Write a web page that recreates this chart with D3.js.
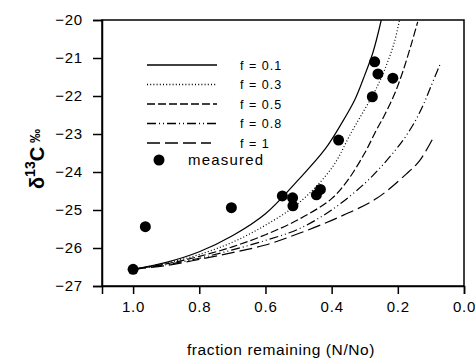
<!DOCTYPE html>
<html>
<head>
<meta charset="utf-8">
<script src="https://cdn.jsdelivr.net/npm/d3@7"></script>
<style>
  body { margin: 0; background: #fff; }
  svg text { font-family: Arial, "Liberation Sans", sans-serif; fill: #000; }
</style>
</head>
<body>
<svg id="chart" width="475" height="360"></svg>
<script>
// model curves: [N/No, d13C]
const f01 = [[1,-26.56],[0.9,-26.38],[0.8,-26.1],[0.7,-25.68],[0.6,-25.1],[0.5,-24.2],[0.42,-23.4],[0.37,-22.72],[0.33,-22.1],[0.3,-21.45],[0.275,-20.85],[0.25,-20.0]];
const f03 = [[1,-26.56],[0.9,-26.4],[0.8,-26.17],[0.7,-25.85],[0.6,-25.4],[0.5,-24.82],[0.4,-23.9],[0.34,-22.95],[0.3,-22.35],[0.265,-21.8],[0.235,-21.2],[0.21,-20.57],[0.195,-20.0]];
const f05 = [[1,-26.56],[0.9,-26.42],[0.8,-26.22],[0.7,-25.97],[0.6,-25.65],[0.5,-25.25],[0.4,-24.7],[0.35,-24.2],[0.3,-23.5],[0.265,-22.9],[0.24,-22.5],[0.21,-21.95],[0.185,-21.36],[0.16,-20.66],[0.14,-20.05]];
const f08 = [[1,-26.56],[0.9,-26.44],[0.8,-26.27],[0.7,-26.05],[0.6,-25.8],[0.5,-25.5],[0.4,-25.0],[0.3,-24.3],[0.234,-23.7],[0.184,-23.16],[0.15,-22.7],[0.124,-22.25],[0.1,-21.75],[0.073,-21.18]];
const f10 = [[1,-26.56],[0.9,-26.46],[0.8,-26.3],[0.7,-26.12],[0.6,-25.92],[0.5,-25.62],[0.386,-25.22],[0.265,-24.7],[0.174,-24.05],[0.134,-23.7],[0.091,-23.07]];

const measured = [[1.0,-26.56],[0.963,-25.44],[0.703,-24.94],[0.549,-24.63],[0.518,-24.68],[0.517,-24.89],[0.446,-24.6],[0.434,-24.46],[0.379,-23.16],[0.277,-22.02],[0.270,-21.10],[0.260,-21.42],[0.215,-21.53]];

const seriesLabels = ["f = 0.1", "f = 0.3", "f = 0.5", "f = 0.8", "f = 1"];
const xTicks = [1.0, 0.8, 0.6, 0.4, 0.2, 0.0];
const yTicks = [-20, -21, -22, -23, -24, -25, -26, -27];

const curves = [f01, f03, f05, f08, f10];
const dashes = [null, "1,2.2", "8,3", "9,3,1,3,1,3", "13,5"];

const svg = d3.select("#chart");
const x = d3.scaleLinear().domain([1.094, 0]).range([102, 464]);
const y = d3.scaleLinear().domain([-27, -20]).range([286, 20]);

// frame
svg.append("rect")
  .attr("x", x.range()[0]).attr("y", y.range()[1])
  .attr("width", x.range()[1] - x.range()[0])
  .attr("height", y.range()[0] - y.range()[1])
  .attr("fill", "none").attr("stroke", "#000").attr("stroke-width", 1.5);

// axes
const xAxis = svg.append("g")
  .attr("transform", "translate(0,286)")
  .call(d3.axisBottom(x).tickValues(xTicks).tickFormat(d3.format(".1f")).tickSize(8).tickPadding(7));
const yAxis = svg.append("g")
  .attr("transform", "translate(102,0)")
  .call(d3.axisLeft(y).tickValues(yTicks).tickFormat(d3.format("d")).tickSize(9).tickPadding(10));

[xAxis, yAxis].forEach(g => {
  g.select(".domain").attr("stroke-width", 1.5);
  g.selectAll(".tick line").attr("stroke-width", 1.5);
  g.selectAll(".tick text").style("font-size", "15px").style("letter-spacing", "0.8px").attr("font-family", null);
});

// curves
const line = d3.line()
  .x(d => x(d[0]))
  .y(d => y(d[1]))
  .curve(d3.curveCatmullRom.alpha(0.5));

svg.selectAll(".curve")
  .data(curves)
  .enter()
  .append("path")
  .attr("class", "curve")
  .attr("d", line)
  .attr("fill", "none")
  .attr("stroke", "#000")
  .attr("stroke-width", 1.2)
  .attr("stroke-dasharray", (d, i) => dashes[i]);

// measured points
svg.selectAll(".pt")
  .data(measured)
  .enter()
  .append("circle")
  .attr("cx", d => x(d[0]))
  .attr("cy", d => y(d[1]))
  .attr("r", 5.5)
  .attr("fill", "#000");

// legend
const legend = svg.append("g");
seriesLabels.forEach((lab, i) => {
  const ly = 65 + i * 19.5;
  legend.append("line")
    .attr("x1", 147).attr("x2", i === 4 ? 211 : 217)
    .attr("y1", ly).attr("y2", ly)
    .attr("stroke", "#000").attr("stroke-width", 1.5)
    .attr("stroke-dasharray", dashes[i]);
  legend.append("text")
    .attr("x", 240).attr("y", ly + 4.5)
    .style("font-size", "12.5px").style("letter-spacing", "1px")
    .text(lab);
});
legend.append("circle").attr("cx", 159).attr("cy", 160).attr("r", 5.5).attr("fill", "#000");
legend.append("text")
  .attr("x", 188).attr("y", 165)
  .style("font-size", "15px").style("letter-spacing", "1.2px")
  .text("measured");

// axis titles
svg.append("text")
  .attr("x", 281).attr("y", 355)
  .attr("text-anchor", "middle")
  .style("font-size", "15.5px").style("letter-spacing", "0.6px")
  .text("fraction remaining (N/No)");

const yt = svg.append("text")
  .attr("transform", "translate(44,159) rotate(-90)")
  .attr("text-anchor", "middle")
  .style("font-weight", "bold");
yt.append("tspan").style("font-size", "20px").text("δ");
yt.append("tspan").style("font-size", "14px").attr("dy", -9).text("13");
yt.append("tspan").style("font-size", "20px").attr("dy", 9).text("C");
yt.append("tspan").style("font-size", "14px").attr("dy", -4).text(" ‰");
</script>
</body>
</html>
